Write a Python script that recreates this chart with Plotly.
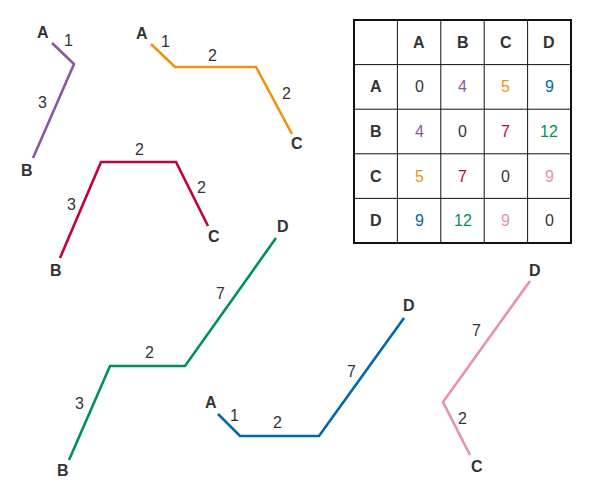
import plotly.graph_objects as go

W, H = 612, 500
OFF = 8  # page body margin compensation
PURPLE, ORANGE, RED = "#8a58a0", "#f0920f", "#c2003d"
GREEN, BLUE, PINK = "#00915a", "#0068a8", "#e890b0"

# each path: points, end labels, edge labels
paths = [
    dict(color=PURPLE, xs=[52, 74, 33], ys=[43, 64, 158],
         ends=[("A", 43, 32), ("B", 27, 170)],
         edges=[("1", 68, 40), ("3", 42, 102)]),
    dict(color=ORANGE, xs=[151, 175, 256, 292], ys=[44, 67, 67, 134],
         ends=[("A", 142, 33), ("C", 297, 143)],
         edges=[("1", 165, 41), ("2", 212, 55), ("2", 286, 93)]),
    dict(color=RED, xs=[60, 101, 176, 208], ys=[258, 162, 162, 226],
         ends=[("B", 56, 270), ("C", 214, 236)],
         edges=[("3", 71, 204), ("2", 139, 149), ("2", 201, 187)]),
    dict(color=GREEN, xs=[69, 110, 185, 276], ys=[460, 366, 366, 238],
         ends=[("B", 63, 470), ("D", 283, 226)],
         edges=[("3", 79, 403), ("2", 149, 352), ("7", 220, 293)]),
    dict(color=BLUE, xs=[218, 240, 319, 404], ys=[414, 436, 436, 318],
         ends=[("A", 211, 402), ("D", 409, 305)],
         edges=[("1", 234, 415), ("2", 277, 422), ("7", 351, 371)]),
    dict(color=PINK, xs=[470, 443, 530], ys=[455, 402, 281],
         ends=[("C", 477, 466), ("D", 535, 270)],
         edges=[("2", 462, 418), ("7", 476, 330)]),
]

labels = ["A", "B", "C", "D"]
dist = [[0, 4, 5, 9], [4, 0, 7, 12], [5, 7, 0, 9], [9, 12, 9, 0]]
cell_colors = [
    ["#333", PURPLE, ORANGE, BLUE],
    [PURPLE, "#333", RED, GREEN],
    [ORANGE, RED, "#333", PINK],
    [BLUE, GREEN, PINK, "#333"],
]

fig = go.Figure()
ann = []
for p in paths:
    fig.add_trace(go.Scatter(x=p["xs"], y=p["ys"], mode="lines",
                             line=dict(color=p["color"], width=2.6), hoverinfo="skip"))
    for t, x, y in p["ends"]:
        ann.append(dict(x=x, y=y, text=f"<b>{t}</b>", showarrow=False,
                        font=dict(size=16, color="#333")))
    for t, x, y in p["edges"]:
        ann.append(dict(x=x, y=y, text=t, showarrow=False,
                        font=dict(size=16, color="#333")))

# table
x0, y0, cw, rh = 354, 20, 43.4, 44.6
shapes = [dict(type="rect", x0=x0, y0=y0, x1=x0 + 5 * cw, y1=y0 + 5 * rh,
               line=dict(color="#111", width=2))]
for i in range(1, 5):
    shapes.append(dict(type="line", x0=x0 + i * cw, x1=x0 + i * cw, y0=y0, y1=y0 + 5 * rh,
                       line=dict(color="#111", width=1)))
    shapes.append(dict(type="line", y0=y0 + i * rh, y1=y0 + i * rh, x0=x0, x1=x0 + 5 * cw,
                       line=dict(color="#111", width=1)))
for i, lab in enumerate(labels):
    ann.append(dict(x=x0 + (i + 1.5) * cw, y=y0 + 0.5 * rh, text=f"<b>{lab}</b>",
                    showarrow=False, font=dict(size=16, color="#333")))
    ann.append(dict(x=x0 + 0.5 * cw, y=y0 + (i + 1.5) * rh, text=f"<b>{lab}</b>",
                    showarrow=False, font=dict(size=16, color="#333")))
    for j in range(4):
        ann.append(dict(x=x0 + (j + 1.5) * cw, y=y0 + (i + 1.5) * rh, text=str(dist[i][j]),
                        showarrow=False, font=dict(size=16, color=cell_colors[i][j])))

fig.update_layout(
    width=W, height=H, margin=dict(l=0, r=0, t=0, b=0),
    plot_bgcolor="white", paper_bgcolor="white", showlegend=False,
    font=dict(family="Liberation Sans, Arial, sans-serif"),
    xaxis=dict(range=[OFF, W + OFF], visible=False),
    yaxis=dict(range=[H + OFF, OFF], visible=False),
    shapes=shapes, annotations=ann,
)
fig.write_html("out.html")
